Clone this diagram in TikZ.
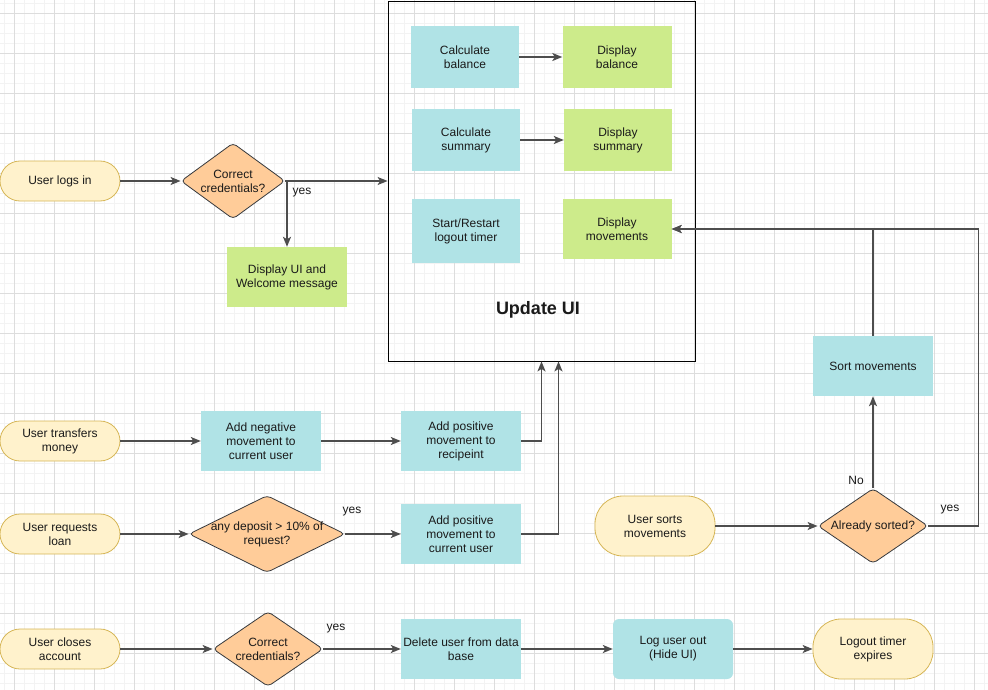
\documentclass[tikz,border=0pt]{standalone}
\usepackage{fontspec}
\setmainfont{Liberation Sans}
\usetikzlibrary{shapes.geometric,arrows.meta}
\definecolor{termfill}{HTML}{FFF2CC}
\definecolor{termline}{HTML}{D6B656}
\definecolor{decfill}{HTML}{FFCC99}
\definecolor{decline}{HTML}{36393D}
\definecolor{procfill}{HTML}{B0E3E6}
\definecolor{dispfill}{HTML}{CDEB8B}
\definecolor{arrowgray}{HTML}{4D4D4D}
\definecolor{ink}{HTML}{1A1A1A}
\definecolor{gridminor}{HTML}{F3F3F3}
\definecolor{gridmajor}{HTML}{DDDDDD}
\tikzset{
  every node/.style={font=\fontsize{12}{14}\selectfont, text=ink},
  term/.style={rectangle, rounded corners=20pt, draw=termline, fill=termfill, line width=0.8pt, minimum width=120pt, minimum height=40pt, align=center},
  tallterm/.style={term, rounded corners=28pt, minimum height=60pt},
  proc/.style={rectangle, fill=procfill, minimum width=120pt, minimum height=60pt, align=center, inner sep=1pt},
  dispbox/.style={proc, fill=dispfill},
  decide/.style={diamond, draw=decline, fill=decfill, line width=0.8pt, rounded corners=4pt, inner sep=0pt},
  flow/.style={draw=arrowgray, line width=1.6pt, -{Stealth[length=10pt,width=8pt,inset=2.5pt]}},
  edgelabel/.style={inner sep=0pt}
}
\begin{document}
\begin{tikzpicture}[x=1pt,y=-1pt]
\useasboundingbox (0,0) rectangle (988,690);
% grid
\foreach \x in {4,14,...,984}{\draw[gridminor,line width=0.6pt](\x,0)--(\x,690);}
\foreach \y in {3,13,...,683}{\draw[gridminor,line width=0.6pt](0,\y)--(988,\y);}
\foreach \x in {14,54,...,974}{\draw[gridmajor,line width=0.7pt](\x,0)--(\x,690);}
\foreach \y in {13,53,...,653}{\draw[gridmajor,line width=0.7pt](0,\y)--(988,\y);}
% update ui block
\node[draw=black,line width=0.8pt,minimum width=307pt,minimum height=360pt,inner sep=0pt] (ui) at (541.5,181) {};
\node[font=\fontsize{18}{20}\selectfont\bfseries] (uititle) at (538,310) {Update UI};
\node[proc,minimum width=108pt,minimum height=62pt] (calcbal) at (465,57) {Calculate\\balance};
\node[dispbox,minimum width=109pt,minimum height=62pt] (dispbal) at (617,57) {Display\\balance};
\node[proc,minimum width=108pt,minimum height=62pt] (calcsum) at (466,140) {Calculate\\summary};
\node[dispbox,minimum width=108pt,minimum height=62pt] (dispsum) at (618,140) {Display\\summary};
\node[proc,minimum width=108pt,minimum height=64pt] (timer) at (466,231) {Start/Restart\\logout timer};
\node[dispbox,minimum width=109pt,minimum height=60pt] (dispmov) at (617,229) {Display\\movements};
\draw[flow] (calcbal) -- (dispbal);
\draw[flow] (calcsum) -- (dispsum);
% login
\node[term] (login) at (60,181) {User logs in};
\node[decide,minimum width=104pt,minimum height=76pt,label={[align=center]center:Correct\\credentials?}] (cred) at (233,181) {};
\node[dispbox] (welcome) at (287,277) {Display UI and\\Welcome message};
\draw[flow] (login) -- (cred);
\draw[flow] (cred.east) -- (ui.west);
\draw[flow] (cred.east) -| (welcome.north);
\node[edgelabel] (yeslogin) at (302,193) {yes};
% transfer
\node[term] (transfer) at (60,441) {User transfers\\money};
\node[proc] (negcur) at (261,441) {Add negative\\movement to\\current user};
\node[proc] (posrec) at (461,441) {Add positive\\movement to\\recipeint};
\draw[flow] (transfer) -- (negcur);
\draw[flow] (negcur) -- (posrec);
\draw[flow] (posrec.east) -| (ui.south);
% loan
\node[term] (loan) at (60,534) {User requests\\loan};
\node[decide,minimum width=156pt,minimum height=77pt,label={[align=center]center:any deposit > 10\% of\\request?}] (deposit) at (267,534) {};
\node[proc] (poscur) at (461,534) {Add positive\\movement to\\current user};
\draw[flow] (loan) -- (deposit);
\draw[flow] (deposit) -- (poscur);
\node[edgelabel] (yesloan) at (352,512) {yes};
\draw[flow] (poscur.east) -| ([xshift=17pt]ui.south);
% sorting
\node[tallterm] (sorts) at (655,526) {User sorts\\movements};
\node[decide,minimum width=110pt,minimum height=75pt,label={[align=center]center:Already sorted?}] (sorted) at (873,526) {};
\node[proc] (sortmov) at (873,366) {Sort movements};
\draw[flow] (sorts) -- (sorted);
\draw[flow] (sorted) -- (sortmov);
\node[edgelabel] (nosort) at (856,480) {No};
\draw[flow] (sortmov.north) |- (dispmov.east);
\draw[flow] (sorted.east) -- ++(50,0) |- (dispmov.east);
\node[edgelabel] (yessort) at (950,510) {yes};
% close account
\node[term] (close) at (60,649) {User closes\\account};
\node[decide,minimum width=110pt,minimum height=75pt,label={[align=center]center:Correct\\credentials?}] (credclose) at (268,649) {};
\node[proc] (delete) at (461,649) {Delete user from data\\base};
\node[proc,rounded corners=6pt] (logout) at (673,649) {Log user out\\(Hide UI)};
\node[tallterm] (expires) at (873,649) {Logout timer\\expires};
\draw[flow] (close) -- (credclose);
\draw[flow] (credclose) -- (delete);
\node[edgelabel] (yesclose) at (336,629) {yes};
\draw[flow] (delete) -- (logout);
\draw[flow] (logout) -- (expires);
\end{tikzpicture}
\end{document}
